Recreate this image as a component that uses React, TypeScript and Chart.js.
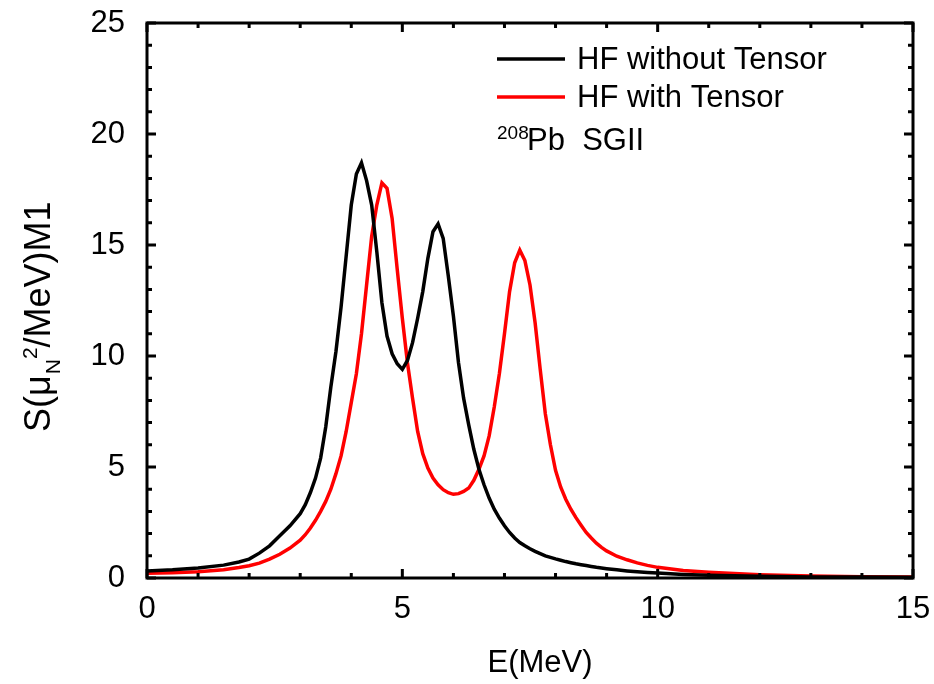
import React, { useEffect, useRef } from "react";
import { Chart, registerables } from "chart.js";

Chart.register(...registerables);

// ---------------- data ----------------
const energies = [
  0, 0.5, 1, 1.5, 1.8, 2.0, 2.2, 2.4, 2.6, 2.8,
  3.0, 3.1, 3.2, 3.3, 3.4, 3.5, 3.6, 3.7, 3.8, 3.9,
  4.0, 4.1, 4.2, 4.3, 4.4, 4.5, 4.6, 4.7, 4.8, 4.9,
  5.0, 5.1, 5.2, 5.3, 5.4, 5.5, 5.6, 5.7, 5.8, 5.9,
  6.0, 6.1, 6.2, 6.3, 6.4, 6.5, 6.6, 6.7, 6.8, 6.9,
  7.0, 7.1, 7.2, 7.3, 7.4, 7.5, 7.6, 7.7, 7.8, 7.9,
  8.0, 8.1, 8.2, 8.3, 8.4, 8.5, 8.6, 8.7, 8.8, 8.9,
  9.0, 9.2, 9.4, 9.6, 9.8, 10, 10.5, 11, 11.5, 12, 13, 14, 15,
];

const hfWithoutTensor = [
  0.32, 0.37, 0.45, 0.58, 0.72, 0.85, 1.12, 1.45, 1.9, 2.35,
  2.9, 3.3, 3.85, 4.5, 5.4, 6.8, 8.6, 10.2, 12.2, 14.5,
  16.8, 18.2, 18.7, 17.9, 16.8, 14.7, 12.4, 10.9, 10.1, 9.65,
  9.4, 9.8, 10.6, 11.7, 12.9, 14.4, 15.6, 15.95, 15.3, 13.6,
  11.8, 9.7, 8.1, 6.9, 5.8, 4.9, 4.2, 3.6, 3.1, 2.7,
  2.35, 2.05, 1.8, 1.6, 1.45, 1.32, 1.2, 1.1, 1.0, 0.93,
  0.86, 0.8, 0.74, 0.69, 0.64, 0.6, 0.56, 0.52, 0.48, 0.45,
  0.42, 0.37, 0.32, 0.28, 0.25, 0.22, 0.16, 0.12, 0.1, 0.08, 0.05, 0.04, 0.03,
];

const hfWithTensor = [
  0.21, 0.24, 0.28, 0.37, 0.47, 0.55, 0.67, 0.85, 1.07, 1.35,
  1.7, 1.95, 2.25, 2.6, 3.0, 3.45, 4.0, 4.7, 5.5, 6.6,
  7.9, 9.2, 11.0, 13.2, 15.4, 16.8, 17.8, 17.55, 16.2, 13.9,
  11.7, 9.7, 8.1, 6.6, 5.6, 4.95, 4.5, 4.2, 3.98, 3.84,
  3.77, 3.8, 3.9, 4.05, 4.4, 4.9, 5.5, 6.4, 7.7, 9.2,
  11.0, 12.9, 14.2, 14.77, 14.3, 13.2, 11.5, 9.4, 7.4, 6.0,
  4.85, 4.1, 3.55, 3.1, 2.72, 2.38, 2.05, 1.8, 1.57, 1.38,
  1.22, 0.98, 0.82, 0.68, 0.57, 0.48, 0.34, 0.26, 0.2, 0.15, 0.09, 0.06, 0.04,
];

const seriesLabels = ["HF without Tensor", "HF with Tensor"];
const seriesColors = ["#000000", "#ff0000"];
const xRange = [0, 15];
const yRange = [0, 25];
const majorStep = 5;
const minorStep = 1;
const xTitle = "E(MeV)";
const yTitleParts = { main1: "S(\u03bc", sub: "N", sup: "2", main2: "/MeV)M1" };
const noteMass = "208";
const noteText = "Pb  SGII";

const FONT = "'Liberation Sans', Arial, Helvetica, sans-serif";

export default function App() {
  const ref = useRef<HTMLCanvasElement>(null);

  useEffect(() => {
    const canvas = ref.current;
    if (!canvas) return;

    const decorPlugin = {
      id: "decor",
      afterDraw(chart: any) {
        const ctx: CanvasRenderingContext2D = chart.ctx;
        const { left, right, top, bottom } = chart.chartArea;
        const xs = chart.scales.x;
        const ys = chart.scales.y;
        ctx.save();
        ctx.strokeStyle = "#000";
        ctx.lineWidth = 3;
        ctx.lineCap = "butt";
        // ticks (inward, mirrored)
        for (let v = xRange[0]; v <= xRange[1]; v += minorStep) {
          const px = xs.getPixelForValue(v);
          const len = v % majorStep === 0 ? 9 : 5;
          ctx.beginPath();
          ctx.moveTo(px, bottom);
          ctx.lineTo(px, bottom - len);
          ctx.moveTo(px, top);
          ctx.lineTo(px, top + len);
          ctx.stroke();
        }
        for (let v = yRange[0]; v <= yRange[1]; v += minorStep) {
          const py = ys.getPixelForValue(v);
          const len = v % majorStep === 0 ? 9 : 5;
          ctx.beginPath();
          ctx.moveTo(left, py);
          ctx.lineTo(left + len, py);
          ctx.moveTo(right, py);
          ctx.lineTo(right - len, py);
          ctx.stroke();
        }
        // frame
        ctx.strokeRect(left, top, right - left, bottom - top);

        // legend
        ctx.fillStyle = "#000";
        ctx.textBaseline = "middle";
        ctx.textAlign = "left";
        ctx.font = `31px ${FONT}`;
        const legendY = [59, 97];
        seriesLabels.forEach((lab, i) => {
          ctx.strokeStyle = seriesColors[i];
          ctx.lineWidth = 3.5;
          ctx.beginPath();
          ctx.moveTo(497, legendY[i]);
          ctx.lineTo(565, legendY[i]);
          ctx.stroke();
          ctx.fillStyle = "#000";
          ctx.fillText(lab, 577, legendY[i] + 1);
        });
        // note
        ctx.textBaseline = "alphabetic";
        ctx.font = `19px ${FONT}`;
        ctx.fillText(noteMass, 497, 139);
        ctx.font = `31px ${FONT}`;
        ctx.fillText(noteText, 527, 150);

        // x title
        ctx.textAlign = "center";
        ctx.font = `31px ${FONT}`;
        ctx.fillText(xTitle, (left + right) / 2 + 10, 672);

        // y title (rotated)
        ctx.translate(50, 432);
        ctx.rotate(-Math.PI / 2);
        ctx.textAlign = "left";
        let x = 0;
        ctx.font = `36px ${FONT}`;
        ctx.fillText(yTitleParts.main1, x, 0);
        x += ctx.measureText(yTitleParts.main1).width;
        ctx.font = `21px ${FONT}`;
        ctx.fillText(yTitleParts.sub, x + 1, 10);
        x += ctx.measureText(yTitleParts.sub).width + 1;
        ctx.fillText(yTitleParts.sup, x, -13);
        x += ctx.measureText(yTitleParts.sup).width;
        ctx.font = `36px ${FONT}`;
        ctx.fillText(yTitleParts.main2, x, 0);
        ctx.restore();
      },
    };

    const makeData = (vals: number[]) => energies.map((e, i) => ({ x: e, y: vals[i] }));

    const chart = new Chart(canvas, {
      type: "line",
      data: {
        datasets: [
          {
            label: seriesLabels[0],
            data: makeData(hfWithoutTensor),
            borderColor: seriesColors[0],
            borderWidth: 3.5,
            pointRadius: 0,
            tension: 0,
            fill: false,
          },
          {
            label: seriesLabels[1],
            data: makeData(hfWithTensor),
            borderColor: seriesColors[1],
            borderWidth: 3.5,
            pointRadius: 0,
            tension: 0,
            fill: false,
          },
        ],
      },
      options: {
        responsive: false,
        devicePixelRatio: 1,
        animation: false,
        layout: { padding: { top: 23, right: 21, left: 0, bottom: 0 } },
        plugins: { legend: { display: false }, tooltip: { enabled: false } },
        scales: {
          x: {
            type: "linear",
            min: xRange[0],
            max: xRange[1],
            grid: { display: false },
            border: { display: false },
            ticks: {
              stepSize: majorStep,
              color: "#000",
              padding: 5,
              maxRotation: 0,
              font: { family: FONT, size: 31 },
            },
            afterFit: (s: any) => {
              s.height = 106;
              s.paddingLeft = 0;
              s.paddingRight = 0;
            },
          },
          y: {
            type: "linear",
            min: yRange[0],
            max: yRange[1],
            grid: { display: false },
            border: { display: false },
            ticks: {
              stepSize: majorStep,
              color: "#000",
              padding: 14,
              font: { family: FONT, size: 31 },
            },
            afterFit: (s: any) => {
              s.width = 147;
              s.paddingTop = 0;
              s.paddingBottom = 0;
            },
          },
        },
      },
      plugins: [decorPlugin],
    });
    return () => chart.destroy();
  }, []);

  return (
    <div style={{ position: "fixed", left: 0, top: 0, width: 934, height: 684, background: "#fff" }}>
      <canvas ref={ref} width={934} height={684} style={{ width: 934, height: 684 }} />
    </div>
  );
}
